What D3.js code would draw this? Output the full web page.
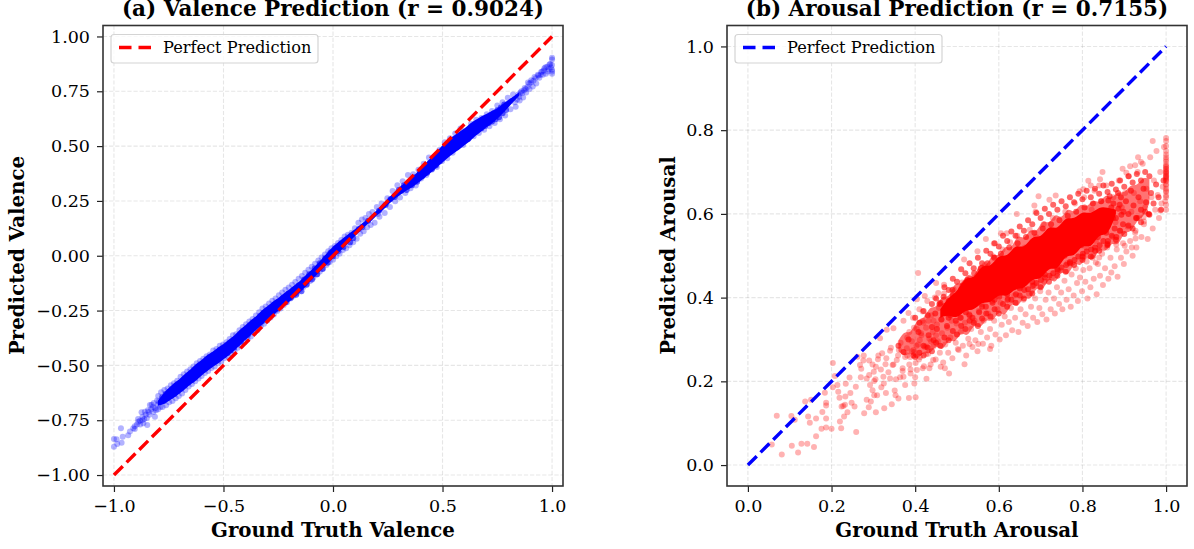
<!DOCTYPE html>
<html><head><meta charset="utf-8">
<script src="https://cdn.jsdelivr.net/npm/d3@7"></script>
<style>html,body{margin:0;padding:0;background:#fff;overflow:hidden}svg{display:block}text{font-family:"DejaVu Serif",serif;fill:#000}</style>
</head><body><svg id="c" width="1194" height="549"></svg>
<script>
// flat lists: truth, predicted, truth, predicted ... in thousandths
const valenceSpread=[
-1000,-836,-1000,-871,-988,-837,-985,-859,-968,-787,-965,-853,-960,-825,-935,-818,-927,-802,-912,-787,-889,-757,-874,-714,-881,-752,-848,-772,-866,-764,-859,-711,-836,-681,-813,-734,-798,-640,-905,-778,-895,-770,-870,-735,-855,-725,-842,-712,-830,-700,-822,-690,-818,-672,-808,-705,-800,-680,-795,-665,-788,-690,
-905,-790,-890,-745,-880,-770,-870,-750,-862,-745,-850,-740,-845,-705,-838,-725,-828,-680,-820,-712,-812,-695,-803,-660,-798,-700,
-785,-622,-778,-690,-770,-612,-762,-682,-755,-605,-748,-668,-740,-590,-733,-662,-726,-582,-718,-650,-711,-570,-704,-640,-696,-552,-689,-628,-681,-540,-674,-612,-666,-528,-659,-596,-651,-518,-644,-585,-637,-505,-629,-572,-622,-490,-614,-560,-607,-480,-600,-548,-592,-470,-585,-535,-577,-458,-570,-526,-562,-450,-555,-512,-547,-432,-540,-505,-532,-425,-525,-490,-517,-410,-510,-482,-502,-405,-495,-466,-487,-395,-480,-458,-472,-380,-465,-445,-457,-362,-450,-435,-442,-358,-435,-420,-427,-340,-420,-410,-412,-325,-405,-395,-397,-312,-390,-380,-382,-300,-375,-368,-367,-288,-360,-352,-352,-272,-345,-340,-337,-258,-330,-322,-322,-240,-315,-310,-307,-232,-300,-295,-292,-218,-285,-282,-277,-205,-270,-268,-262,-195,-255,-252,-247,-180,-240,-240,-232,-168,-225,-225,-217,-155,-210,-212,-202,-145,-195,-195,-187,-132,-180,-182,-172,-120,-165,-170,-157,-105,-150,-155,-142,-92,-135,-142,-127,-78,-120,-128,-112,-64,-105,-115,-97,-50,-90,-100,-82,-36,-75,-86,-67,-22,-60,-72,-52,-8,-45,-58,-37,6,-30,-42,-22,20,-15,-28,-7,34,0,-18,8,44,15,-2,23,58,30,10,38,72,45,26,53,88,60,34,68,96,75,48,85,105,92,62,100,125,108,78,116,150,124,100,132,165,140,112,148,172,156,130,164,190,172,140,180,200,190,150,200,222,212,178,222,238,236,195,205,190,248,262,260,222,272,295,284,248,294,322,306,266,318,340,330,286,342,368,354,308,366,372,378,320,390,392,402,352,414,420,426,368,438,448,450,392,462,452,474,405,486,482,498,432,510,518,522,445,534,536,546,470,558,558,570,500,582,580,594,505,606,570,618,532,630,602,642,545,654,620,666,560,678,628,690,575,702,645,714,590,726,660,738,605,750,685,762,622,774,700,786,640,798,720,810,668,822,735,834,680,
846,735,852,708,860,750,868,722,875,765,882,745,890,790,897,760,905,800,912,772,920,815,928,786,935,825,942,812,950,838,958,825,965,855,972,830,980,840,988,872,995,858,1000,895,1000,903,1000,870,1000,848,1000,840,1000,830,
830,700,840,712,850,725,856,745,864,742,872,755,880,760,888,770,896,785,904,790,915,798,925,810,938,822,948,825,955,840,962,845,970,860,978,862,985,850,992,875
];
const valenceCore=[
-780,-645,-772,-662,-764,-630,-756,-650,-748,-620,-740,-640,-732,-608,-724,-630,-716,-598,-708,-618,-700,-585,-692,-605,-684,-568,-676,-590,-668,-555,-660,-578,-652,-542,-644,-565,-636,-528,-628,-552,-620,-515,-612,-538,-604,-500,-596,-522,-588,-488,-580,-512,-572,-478,-564,-502,-556,-465,-548,-488,-540,-450,-532,-478,-524,-440,-516,-466,-508,-428,-500,-455,-492,-420,-484,-444,-476,-408,-468,-432,-460,-395,-452,-420,-444,-385,-436,-400,-428,-368,-420,-392,-412,-350,-404,-372,-396,-340,-388,-360,-380,-322,-372,-346,-364,-305,-356,-330,-348,-292,-340,-316,-332,-275,-324,-300,-316,-260,-308,-284,-300,-248,-292,-272,-284,-238,-276,-258,-268,-222,-260,-246,-250,-212,-240,-232,-228,-192,-216,-212,-204,-172,-192,-192,-180,-155,-168,-178,-156,-135,-144,-162,-132,-108,-120,-132,-108,-84,-96,-108,-84,-58,-72,-84,-60,-34,-48,-60,-36,-12,-24,-32,-12,14,0,-2,12,34,24,20,36,54,48,40,62,72,78,62,92,80,118,122,134,130,160,160,210,205,240,232,262,258,282,268,
300,300,312,296,324,322,336,300,348,338,360,322,372,358,384,338,396,376,408,362,420,398,430,378,442,424,452,396,462,436,470,412,478,452,486,430,494,470,502,448,510,490,518,466,526,504,534,474,542,512,550,488,558,524,566,500,574,536,582,512,590,552,598,522,606,562,614,532,622,575,630,548,638,590,646,565,654,602,662,578,670,612,678,582,686,622,694,592,702,630,710,604,718,640,726,612,734,650,742,622,750,664,758,632,766,676,774,650,782,690,790,665
];
// the merged, fully saturated mass of overlapping dots in panel (a)
const valenceMassTruth=[-800,-775,-750,-725,-700,-675,-650,-625,-600,-575,-550,-525,-500,-475,-450,-425,-400,-375,-350,-325,-300,-275,-250,-225,-200,-175,-150,-125,-100,-75,-50,-25,0,25,50,75,100,125,150,175,200,225,250,275,300,325,350,375,400,425,450,475,500,525,550,575,600,625,650,675,700,725,750,775,800,825,850];
const valenceMassLow=[-684,-680,-662,-648,-626,-608,-585,-570,-545,-528,-505,-494,-470,-456,-430,-410,-381,-363,-334,-318,-288,-274,-248,-233,-208,-191,-165,-142,-113,-89,-60,-38,-12,13,37,62,90,112,138,157,184,205,230,256,271,292,304,323,341,361,381,404,425,447,468,481,505,521,547,565,587,602,624,648,676,703,730];
const valenceMassHigh=[-662,-628,-603,-578,-564,-536,-520,-492,-477,-452,-440,-416,-405,-381,-365,-336,-319,-293,-277,-248,-231,-208,-195,-171,-155,-133,-115,-88,-67,-39,-14,16,42,63,83,104,120,142,160,187,206,235,260,284,312,330,352,369,398,424,450,478,503,532,545,566,578,604,618,635,645,661,671,692,711,727,746];
// the merged mass of overlapping dots in panel (b): a half-dense body and a saturated heart
const arousalBodyTruth=[360,375,390,405,420,435,450,465,480,495,510,525,540,555,570,585,600,615,630,645,660,675,690,705,720,735,750,765,780,795,810,825,840,855,870,885,900,915,930,945,960];
const arousalBodyLow=[272,258,270,248,272,262,290,268,305,288,322,302,340,322,352,338,372,350,392,372,408,388,430,412,452,428,470,446,488,470,502,482,520,505,535,520,560,552,585,590,625];
const arousalBodyHigh=[298,322,312,352,345,382,372,410,395,440,428,462,442,488,470,510,495,528,512,555,535,568,552,590,572,605,585,618,598,628,612,638,622,650,635,655,648,672,665,690,682];
const arousalHeartTruth=[460,480,500,520,540,560,580,600,620,640,660,680,700,720,740,760,780,800,820,840,860,880];
const arousalHeartLow=[352,360,348,372,368,392,385,410,400,425,418,448,440,475,462,505,495,530,515,555,545,600];
const arousalHeartHigh=[372,402,412,452,442,482,470,505,495,530,515,550,540,575,560,595,585,608,598,618,615,610];
const arousalSpread=[
69,118,57,49,81,25,105,46,120,30,128,51,142,51,158,43,163,69,176,87,187,90,200,87,223,88,259,79,104,117,112,108,144,116,148,101,163,111,187,111,178,127,187,142,187,149,137,152,151,156,184,173,203,244,208,213,203,186,
214,191,216,175,219,161,233,164,245,172,234,194,243,209,258,187,228,141,224,140,232,144,248,149,255,140,238,126,230,116,220,104,278,124,289,138,306,126,326,136,344,145,385,160,401,162,284,156,294,152,302,167,309,167,319,186,330,172,351,178,353,167,360,159,376,191,398,195,427,206,268,239,271,230,270,210,284,207,302,201,292,191,298,179,276,250,290,250,311,253,306,235,301,223,324,211,340,207,364,210,372,211,400,210,329,241,346,239,356,251,370,231,389,219,404,227,418,231,434,231,262,259,277,262,321,267,340,273,361,275,380,279,388,258,396,275,411,299,427,283,443,251,461,235,471,231,481,219,518,241,579,277,551,289,530,289,502,277,
332,323,316,303,348,327,372,345,384,363,407,459,423,404,404,396,418,367,455,411,450,435,469,431,
290,215,298,240,305,205,312,262,318,228,325,195,331,255,336,222,342,280,348,240,354,205,359,262,365,292,370,225,376,258,381,305,386,240,392,272,397,328,403,285,409,252,414,315,420,340,426,265,432,345,438,295,444,345,450,310,
1000,781,1000,774,1000,762,1000,750,1000,742,1000,730,1000,714,1000,706,1000,695,1000,690,1000,683,1000,678,1000,660,1000,652,1000,644,1000,622,1000,610,1000,700,1000,708,1000,686,1000,671,1000,725,1000,718,1000,712,1000,702,1000,698,1000,692,1000,688,1000,680,1000,668,1000,735,1000,655,1000,640,
968,774,933,735,940,724,914,714,926,716,896,708,905,698,848,700,814,679,820,668,842,683,840,668,793,654,802,659,695,642,736,644,721,634,685,620,688,605,643,600,569,540,605,554,619,554,588,529,549,511,517,491,918,520,901,524,881,527,927,541,927,560,947,582,986,608,946,592,826,500,840,496,810,486,802,466,832,484,
381,262,386,318,389,228,392,296,395,352,398,270,401,244,404,325,407,288,410,372,412,258,415,310,418,345,421,236,423,282,426,328,429,392,431,266,434,302,437,240,439,358,442,318,444,284,447,400,449,252,452,336,454,296,457,375,459,268,462,348,464,315,467,245,469,410,472,288,474,362,477,328,479,268,482,392,484,305,487,345,489,255,492,420,494,372,497,292,499,338,502,402,504,275,507,352,509,318,512,436,514,285,517,378,519,340,522,262,524,412,527,302,529,360,532,448,534,325,537,282,539,392,542,345,544,298,547,425,549,272,552,368,554,462,557,318,559,385,562,290,564,345,567,478,569,408,572,305,574,362,577,438,579,325,582,285,584,392,587,498,589,345,592,312,594,418,597,372,599,455,602,300,604,388,607,335,609,515,612,428,614,355,617,310,619,470,622,398,624,342,627,532,629,375,632,322,634,445,637,405,639,352,642,490,644,548,647,318,649,425,652,372,654,468,657,340,659,395,662,520,664,360,667,445,669,332,672,410,674,562,677,378,679,485,682,352,684,430,687,398,689,545,692,342,694,458,697,375,699,415,702,505,704,360,707,575,709,438,712,395,714,348,717,478,719,412,722,530,724,372,727,448,729,590,732,398,734,362,737,495,739,425,742,552,744,385,747,465,749,412,752,372,754,520,757,440,759,605,762,395,764,482,767,420,769,565,772,378,774,455,777,510,779,405,782,625,784,470,787,435,789,392,792,540,794,448,797,588,799,415,
802,498,804,640,807,438,809,520,812,398,814,565,817,470,819,425,822,610,824,495,827,445,829,655,832,535,834,408,837,480,839,585,842,452,844,630,847,505,849,430,852,560,854,470,857,668,859,520,862,445,864,605,867,495,869,460,872,545,874,640,877,475,879,580,882,515,884,450,887,680,889,560,892,495,894,615,897,530,899,480,
902,650,905,510,908,570,911,690,914,535,917,605,920,500,923,650,926,555,929,520,932,700,935,590,938,630,941,545,944,720,947,575,950,615,953,660,956,540,959,600,962,735,965,640,968,565,971,680,974,610,977,750,980,645,983,590,986,700,989,625,992,665,995,760,998,630
];
const arousalCore=[
440,330,448,362,452,325,458,385,463,348,468,402,471,365,476,332,480,392,484,358,489,418,493,375,497,345,501,405,505,378,509,352,513,428,517,395,521,365,525,442,529,410,533,378,537,352,541,458,545,420,549,392,553,365,557,470,561,432,565,402,569,378,573,482,577,445,581,415,585,388,589,495,593,458,597,428,601,402,605,505,609,470,613,440,617,412,621,395,625,520,629,482,633,452,637,425,641,408,645,530,649,495,653,465,657,438,661,418,665,545,669,505,673,478,677,450,681,428,685,555,689,518,693,490,697,462,701,442,705,565,709,532,713,502,717,475,721,452,725,575,729,542,733,515,737,488,741,465,745,585,749,555,753,528,757,500,761,478,765,595,769,565,773,540,777,512,781,490,785,605,789,575,793,552,797,525,801,505,805,615,809,588,813,562,817,535,821,515,825,625,829,598,833,572,837,545,841,525,845,630,849,605,853,582,857,555,861,535,865,642,869,615,873,590,877,565,881,545,885,650,889,622,893,598,897,575,
470,380,480,352,490,405,500,368,510,420,520,385,530,358,540,435,550,405,560,378,570,450,580,420,590,395,600,468,610,432,620,408,630,485,640,448,650,422,660,500,670,465,680,438,690,515,700,480,710,455,720,530,730,498,740,468,750,545,760,512,770,482,780,560,790,528,800,498,810,575,820,545,830,512,840,590,850,560,860,528,
515,410,535,395,555,445,575,400,595,445,615,470,635,505,655,480,675,520,695,500,715,505,735,530,755,525,775,555,795,560,815,590,
862,632,868,600,874,625,880,590,886,612,892,640,898,605,904,630,910,600,916,655,922,620,928,590,934,640,940,610,946,660,952,628,958,600,964,650,970,625,976,670,982,640,988,610,994,680,
360,285,372,270,384,300,396,262,408,318,420,285,432,310,444,298,
400,352,410,340,420,368,430,358,440,385,450,398,460,388,470,425,480,418,490,445,500,438,510,468,520,458,530,482,540,470,550,495,560,482,570,512,580,505,590,530,600,522,610,548,620,535,630,558,640,548,650,570,660,560,670,585,680,575,690,602,700,590,710,612,720,600,730,622,740,610,750,630,760,618,770,640,780,628,790,648,800,635,810,655,820,640,830,660,840,648,850,668,860,652,870,672,880,658,890,680,900,665,910,690,920,675,930,695,940,680,950,700,960,690,
400,258,410,268,420,262,430,280,440,272,450,292,460,285,470,305,480,298,490,320,500,312,510,332,520,325,530,345,540,340,550,332,560,350,570,362,580,355,590,372,600,362,610,385,620,378,630,395,640,388,650,405,660,398,670,420,680,410,690,435,700,425,710,448,720,438,730,458,740,452,750,472,760,462,770,485,780,478,790,498,800,490,810,510,820,498,830,520,840,512,850,535,860,525,870,548,880,538,890,560,900,552,910,572,920,565,930,590,940,580,950,605,960,598
];
const valenceXTicks=[-1,-0.5,0,0.5,1];
const valenceYTicks=[-1,-0.75,-0.5,-0.25,0,0.25,0.5,0.75,1];
const arousalTicks=[0,0.2,0.4,0.6,0.8,1];
const identityValence=[-1,1];
const identityArousal=[0,1];
const unpack=f=>d3.range(0,f.length-1,2).map(i=>({t:f[i]/1000,p:f[i+1]/1000}));

const svg=d3.select("#c");
function panel(o){
  const x=d3.scaleLinear().domain(o.dom).range([o.left,o.left+460]);
  const y=d3.scaleLinear().domain(o.dom).range([486,25.5]);
  const g=svg.append("g");
  const grid=g.append("g").attr("stroke","#808080").attr("stroke-opacity",.2).attr("stroke-width",1.1).attr("stroke-dasharray","4.2,1.9");
  o.xt.forEach(t=>grid.append("line").attr("x1",x(t)).attr("x2",x(t)).attr("y1",25.5).attr("y2",486));
  o.yt.forEach(t=>grid.append("line").attr("y1",y(t)).attr("y2",y(t)).attr("x1",o.left).attr("x2",o.left+460));
  o.masses.forEach(m=>{
    const area=d3.area().x((d,i)=>x(m.t[i]/1000)).y0((d,i)=>y(m.lo[i]/1000)).y1((d,i)=>y(m.hi[i]/1000)).curve(d3.curveBasis);
    g.append("path").attr("d",area(m.t)).attr("fill",o.dot).attr("fill-opacity",m.op);
  });
  g.append("g").selectAll("circle").data(unpack(o.pts)).join("circle")
    .attr("cx",d=>x(d.t)).attr("cy",d=>y(d.p)).attr("r",3).attr("fill",o.dot).attr("fill-opacity",.3);
  g.append("g").selectAll("circle").data(unpack(o.core)).join("circle")
    .attr("cx",d=>x(d.t)).attr("cy",d=>y(d.p)).attr("r",3).attr("fill",o.dot).attr("fill-opacity",o.coreOp);
  g.append("line").attr("x1",x(o.id[0])).attr("y1",y(o.id[0])).attr("x2",x(o.id[1])).attr("y2",y(o.id[1]))
    .attr("stroke",o.line).attr("stroke-width",3.4).attr("stroke-dasharray","12.5,5.4");
  const ax=g.append("g").attr("transform","translate(0,486)").call(d3.axisBottom(x).tickValues(o.xt).tickFormat(d3.format(".1f")).tickSize(6).tickPadding(8));
  const ay=g.append("g").attr("transform",`translate(${o.left},0)`).call(d3.axisLeft(y).tickValues(o.yt).tickFormat(d3.format(o.yf)).tickSize(6).tickPadding(7));
  [ax,ay].forEach(a=>{a.select(".domain").remove();a.selectAll("line").attr("stroke","#222").attr("stroke-width",1.2);a.selectAll("text").style("font-size","17.5px").style("font-family",'"DejaVu Serif"').attr("fill","#000");});
  g.append("rect").attr("x",o.left).attr("y",25.5).attr("width",460).attr("height",460.5).attr("fill","none").attr("stroke","#333").attr("stroke-width",1.6);
  // legend
  g.append("rect").attr("x",o.left+8).attr("y",34.5).attr("width",207).attr("height",28.5).attr("rx",3).attr("fill","#fff").attr("fill-opacity",.8).attr("stroke","#d4d4d4").attr("stroke-width",1.2);
  g.append("line").attr("x1",o.left+16).attr("x2",o.left+48).attr("y1",47.5).attr("y2",47.5).attr("stroke",o.line).attr("stroke-width",3.4).attr("stroke-dasharray","12.5,7");
  g.append("text").attr("x",o.left+60).attr("y",53).style("font-size","16.2px").text("Perfect Prediction");
  g.append("text").attr("x",o.left+230).attr("y",16).attr("text-anchor","middle").style("font-size","21.5px").style("font-weight","bold").text(o.title);
  g.append("text").attr("x",o.left+230).attr("y",537).attr("text-anchor","middle").style("font-size","19.8px").style("font-weight","bold").text(o.xl);
  g.append("text").attr("transform",`translate(${o.ylx},255.5) rotate(-90)`).attr("text-anchor","middle").style("font-size","19.8px").style("font-weight","bold").text(o.yl);
}
panel({left:103,dom:[-1.05,1.05],xt:valenceXTicks,yt:valenceYTicks,yf:".2f",pts:valenceSpread,core:valenceCore,coreOp:.6,dot:"#0000ff",line:"#ff0000",id:identityValence,ylx:24,
  masses:[{t:valenceMassTruth,lo:valenceMassLow,hi:valenceMassHigh,op:1}],
  title:"(a) Valence Prediction (r = 0.9024)",xl:"Ground Truth Valence",yl:"Predicted Valence"});
panel({left:727,dom:[-0.05,1.05],xt:arousalTicks,yt:arousalTicks,yf:".1f",pts:arousalSpread,core:arousalCore,coreOp:.6,dot:"#ff0000",line:"#0000ff",id:identityArousal,ylx:675,
  masses:[{t:arousalBodyTruth,lo:arousalBodyLow,hi:arousalBodyHigh,op:.55},{t:arousalHeartTruth,lo:arousalHeartLow,hi:arousalHeartHigh,op:1}],
  title:"(b) Arousal Prediction (r = 0.7155)",xl:"Ground Truth Arousal",yl:"Predicted Arousal"});
</script></body></html>
